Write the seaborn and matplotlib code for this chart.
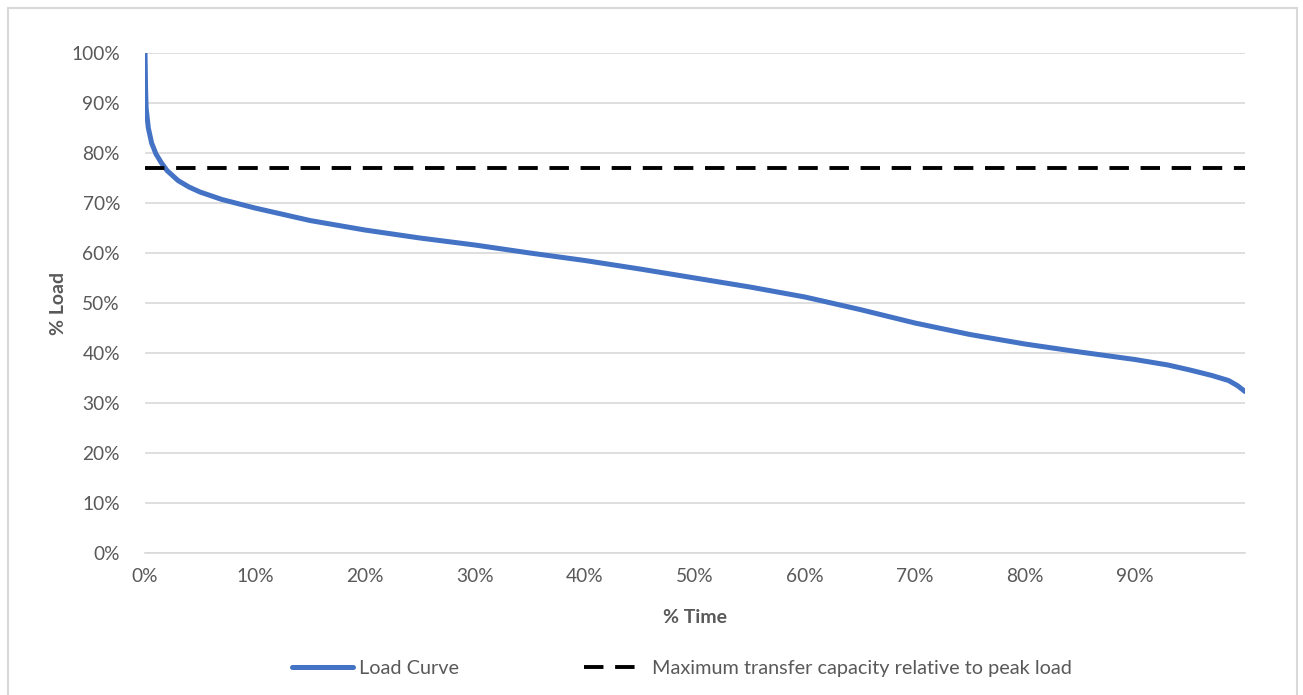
import pandas as pd
import matplotlib.pyplot as plt
import seaborn as sns
from matplotlib.patches import Rectangle
from matplotlib.ticker import FuncFormatter

# load duration curve (% of time, % of peak load)
time_pct = [0, 0.05, 0.1, 0.3, 0.6, 1.0, 1.5, 2.0, 3.0, 4.0, 5.0, 7.0,
            10, 15, 20, 25, 30, 35, 40, 45, 50, 55, 60, 65, 70, 75,
            80, 85, 90, 93, 95, 97, 98.5, 99.3, 100]
load_pct = [100, 93, 89, 85, 82, 79.8, 78, 76.5, 74.5, 73.2, 72.2, 70.7,
            69.0, 66.5, 64.6, 63.0, 61.6, 60.0, 58.5, 56.8, 55.0, 53.2, 51.2, 48.7, 46.0, 43.7,
            41.8, 40.2, 38.7, 37.6, 36.6, 35.5, 34.5, 33.5, 32.3]
capacity = 77
x_ticks = [0, 10, 20, 30, 40, 50, 60, 70, 80, 90]
y_ticks = [0, 10, 20, 30, 40, 50, 60, 70, 80, 90, 100]

df = pd.DataFrame({'time': time_pct, 'load': load_pct})

sns.set_style('white')
plt.rcParams['font.family'] = ['Lato', 'DejaVu Sans']
grey = '#595959'

fig = plt.figure(figsize=(13.03, 6.95), dpi=100)
ax = fig.add_axes([0.1113, 0.2043, 0.8442, 0.7194])

sns.lineplot(data=df, x='time', y='load', ax=ax, color='#4472C4', lw=3.6,
             label='Load Curve')
ax.plot([0, 100], [capacity, capacity], color='black', lw=2.8,
        linestyle=(0, (5, 3)), label='Maximum transfer capacity relative to peak load')

ax.set_xlim(0, 100)
ax.set_ylim(0, 100)
ax.set_xticks(x_ticks)
ax.set_yticks(y_ticks)
pct = FuncFormatter(lambda v, p: f'{v:.0f}%')
ax.xaxis.set_major_formatter(pct)
ax.yaxis.set_major_formatter(pct)
ax.tick_params(axis='both', length=0, labelsize=13.8, labelcolor=grey)
ax.tick_params(axis='x', pad=11)
ax.tick_params(axis='y', pad=18)
ax.grid(axis='y', color='#d9d9d9', lw=1.2)
ax.grid(axis='x', visible=False)
for side in ['top', 'right', 'left']:
    ax.spines[side].set_visible(False)
ax.spines['bottom'].set_color('#d9d9d9')
ax.spines['bottom'].set_linewidth(1.2)

ax.set_xlabel('% Time', fontsize=14, fontweight='bold', color=grey, labelpad=17)
ax.set_ylabel('% Load', fontsize=14, fontweight='bold', color=grey, labelpad=3)

ax.legend(loc='center', bbox_to_anchor=(0.488, -0.23), ncol=2, frameon=False,
          handlelength=3.1, columnspacing=6.3, handletextpad=0.3,
          fontsize=14.3, labelcolor=grey)

# chart frame
fig.patches.append(Rectangle((0.0061, -0.01), 0.989, 0.9985,
                             transform=fig.transFigure, fill=False,
                             edgecolor='#d9d9d9', lw=1.5))

plt.savefig('out.png', dpi=100)
